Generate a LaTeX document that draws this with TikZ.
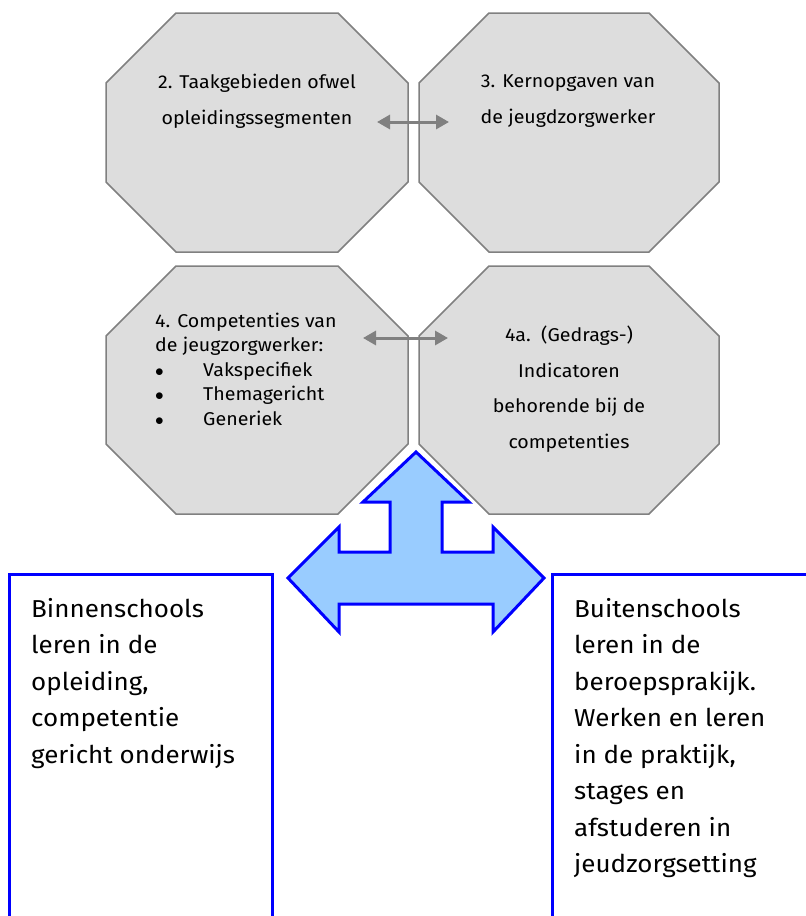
\documentclass[tikz,border=0pt]{standalone}
\usepackage{fontspec}
\setmainfont{Fira Sans}[FakeStretch=1.06]
\usepackage{tikz}
\usetikzlibrary{positioning,arrows.meta}
\definecolor{octafill}{HTML}{DDDDDD}
\definecolor{octaline}{HTML}{808080}
\definecolor{arrowblue}{HTML}{99CCFF}
\newcommand\octa[4]{%
\draw[octa] (#1+\cut,#2) -- (#3-\cut,#2) -- (#3,#2+\cut) -- (#3,#4-\cut) -- (#3-\cut,#4) -- (#1+\cut,#4) -- (#1,#4-\cut) -- (#1,#2+\cut) -- cycle;
}
\newcommand\bul{\makebox[48pt][l]{$\bullet$}}

\begin{document}
\begin{tikzpicture}[x=1pt,y=-1pt,
	octa/.style={fill=octafill,draw=octaline,line width=1.5pt},
	octatext/.style={inner sep=0pt,align=center,font=\fontsize{18.5}{36}\selectfont},
	link/.style={draw=octaline,line width=3pt,arrows={Triangle[length=13pt,width=14pt]-Triangle[length=13pt,width=14pt]}},
	bluebox/.style={draw=blue,line width=3pt,outer sep=0pt,inner sep=0pt,anchor=north west},
	boxtext/.style={inner sep=0pt,align=left,anchor=north west,font=\fontsize{24.5}{36.5}\selectfont}]
	%% canvas
	\useasboundingbox (0,0) rectangle (806,916);
	\def\cut{70} % corner cut of the octagons

	% the four octagons
	\octa{106}{13}{408}{252}
	\octa{419}{13}{719}{252}
	\octa{106}{266}{408}{514}
	\octa{419}{266}{719}{514}

	\node[octatext] (taak) at (257,101) {2. Taakgebieden ofwel\\opleidingssegmenten};
	\node[octatext] (kern) at (568,101) {3. Kernopgaven van\\de jeugdzorgwerker};
	\node[octatext,align=left,anchor=west,font=\fontsize{18.5}{24.5}\selectfont] (comp) at (155,369)
		{4. Competenties van\\de jeugzorgwerker:\\\bul Vakspecifiek\\\bul Themagericht\\\bul Generiek};
	\node[octatext,font=\fontsize{18.5}{35.5}\selectfont] (indic) at (569,389)
		{4a.\ \ (Gedrags-)\\Indicatoren\\behorende bij de\\competenties};

	% arrows between the octagons
	\coordinate (taakR) at (377,122);
	\coordinate (kernL) at (449,122);
	\coordinate (compR) at (363,338);
	\coordinate (indicL) at (448,338);
	\draw[link] (taakR) -- (kernL);
	\draw[link] (compR) -- (indicL);

	% big three-way arrow
	\draw[draw=blue,fill=arrowblue,line width=3pt]
		(416,452) -- (469,502) -- (442,502) -- (442,552) -- (493,552) -- (493,527)
		-- (544,578) -- (493,632) -- (493,604) -- (339,604) -- (339,632)
		-- (288,578) -- (339,527) -- (339,552) -- (390,552) -- (390,502)
		-- (363,502) -- cycle;

	% the two open boxes
	\node[bluebox,minimum width=263pt,minimum height=400pt] (binnen) at (9,574) {};
	\node[bluebox,minimum width=300pt,minimum height=400pt] (buiten) at (552,574) {};

	\node[boxtext] (binnentxt) at (31,598)
		{Binnenschools\\leren in de\\opleiding,\\competentie\\gericht onderwijs};
	\node[boxtext] (buitentxt) at (574,598)
		{Buitenschools\\leren in de\\beroepsprakijk.\\Werken en leren\\in de praktijk,\\stages en\\afstuderen in\\jeudzorgsetting};
\end{tikzpicture}
\end{document}
